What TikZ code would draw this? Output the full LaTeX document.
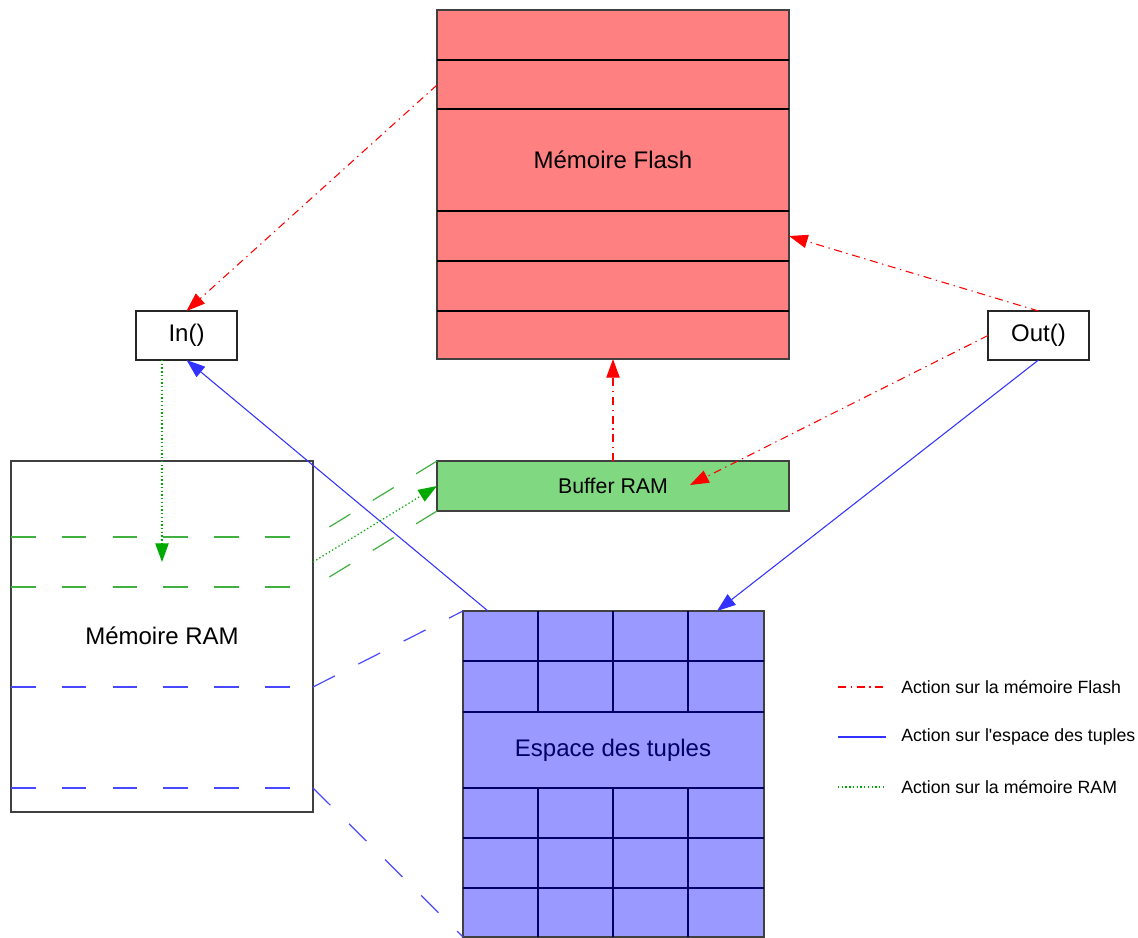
\documentclass[tikz,border=0pt]{standalone}
\usepackage{fontspec}
\setmainfont{Liberation Sans}[Ligatures=TeXOff]
\usetikzlibrary{arrows.meta,calc}
\definecolor{flashfill}{RGB}{255,128,128}
\definecolor{buffill}{RGB}{128,216,128}
\definecolor{tupfill}{RGB}{153,153,255}
\definecolor{tupink}{RGB}{0,0,102}
\definecolor{boxline}{RGB}{64,64,64}
\definecolor{actred}{RGB}{255,0,0}
\definecolor{actblue}{RGB}{51,51,255}
\definecolor{actgreen}{RGB}{0,170,0}
\definecolor{bandgreen}{RGB}{64,176,64}
\definecolor{bandblue}{RGB}{72,72,255}
\newcommand{\bigf}{\fontsize{18}{21}\selectfont}
\newcommand{\buff}{\fontsize{16}{19}\selectfont}
\newcommand{\legf}{\fontsize{13.3}{16}\selectfont}
\tikzset{
 mem/.style={draw=boxline,line width=1.1pt,inner sep=0pt,outer sep=0pt},
 fct/.style={draw=black!85,line width=1.1pt,fill=white,inner sep=0pt,outer sep=0pt,
   minimum width=75.75pt,minimum height=36.75pt,font=\bigf},
 rowline/.style={draw=black,line width=1pt},
 tupgrid/.style={draw=tupink,line width=1pt},
 flashact/.style={draw=actred,line width=.8pt,dash pattern=on 6pt off 3.5pt on 1pt off 3.5pt},
 tupact/.style={draw=actblue,line width=.8pt},
 ramact/.style={draw=actgreen,line width=.9pt,dash pattern=on 1pt off 1.8pt},
 greenband/.style={draw=bandgreen,line width=.9pt,dash pattern=on 18.4pt off 19.7pt},
 blueband/.style={draw=bandblue,line width=.9pt,dash pattern=on 18.4pt off 19.7pt}
}
\begin{document}
\begin{tikzpicture}[x=.75pt,y=-.75pt,>={Triangle[length=14pt,width=10pt]}]
\useasboundingbox (0,0) rectangle (1138,938);
\node[mem,fill=flashfill,minimum width=264pt,minimum height=261.75pt] (flash) at (613,184.5) {};
\foreach \r in {60,109,211,261,311} \draw[rowline] (flash.west |- 0,\r) -- (flash.east |- 0,\r);
\node[font=\bigf] (flashlbl) at (613,160) {Mémoire Flash};
\node[mem,fill=buffill,minimum width=264pt,minimum height=37.5pt,font=\buff] (buffer) at (613,486) {Buffer RAM};
\node[mem,fill=white,minimum width=226.5pt,minimum height=263.25pt] (ram) at (162,636.5) {};
\node[font=\bigf] (ramlbl) at (162,636) {Mémoire RAM};
\node[mem,fill=tupfill,minimum width=225.75pt,minimum height=244.5pt] (tuples) at (613.5,774) {};
\foreach \r in {661,712,788,838,888} \draw[tupgrid] (tuples.west |- 0,\r) -- (tuples.east |- 0,\r);
\foreach \c in {538,613,688} {
 \draw[tupgrid] (\c,611) -- (\c,712);
 \draw[tupgrid] (\c,788) -- (\c,937);
}
\node[font=\bigf,text=tupink] (tuplbl) at (613,750) {Espace des tuples};
\node[fct] (in) at (186.5,335.5) {In()};
\node[fct] (out) at (1038.5,335.5) {Out()};
\coordinate (slot) at (162,562);
\coordinate (bufin) at (690,485);
\foreach \r in {537,587} \draw[greenband] (ram.west |- 0,\r) -- (ram.east |- 0,\r);
\foreach \r in {687,788} \draw[blueband] (ram.west |- 0,\r) -- (ram.east |- 0,\r);
\draw[greenband] (buffer.north west) -- (ram.east |- 0,537);
\draw[greenband] (buffer.south west) -- (ram.east |- 0,587);
\draw[blueband] (ram.east |- 0,687) -- (tuples.north west);
\draw[blueband] (ram.east |- 0,788) -- (tuples.south west);
\draw[flashact,->] (flash.west |- 0,85) -- (in.north);
\draw[flashact,->] (out.north) -- (flash.east |- 0,236);
\draw[flashact,->] (out.west) -- (bufin);
\draw[flashact,->] (buffer.north) -- (flash.south);
\draw[tupact,->] ($(tuples.north west)+(25,0)$) -- (in.south);
\draw[tupact,->] (out.south) -- ($(tuples.north east)+(-47,0)$);
\draw[ramact,->] (slot |- in.south) -- (slot);
\draw[ramact,->] (ram.east |- slot) -- (buffer.west);
\node[anchor=west,inner sep=0pt,font=\legf] (lgflash) at (901,687) {Action sur la mémoire Flash};
\node[anchor=west,inner sep=0pt,font=\legf] (lgtup) at (901,737) {Action sur l'espace des tuples};
\node[anchor=west,inner sep=0pt,font=\legf] (lgram) at (901,787) {Action sur la mémoire RAM};
\draw[flashact] ($(lgflash.west)+(-63,0)$) -- ($(lgflash.west)+(-15,0)$);
\draw[tupact] ($(lgtup.west)+(-63,0)$) -- ($(lgtup.west)+(-15,0)$);
\draw[ramact] ($(lgram.west)+(-63,0)$) -- ($(lgram.west)+(-15,0)$);
\end{tikzpicture}
\end{document}
